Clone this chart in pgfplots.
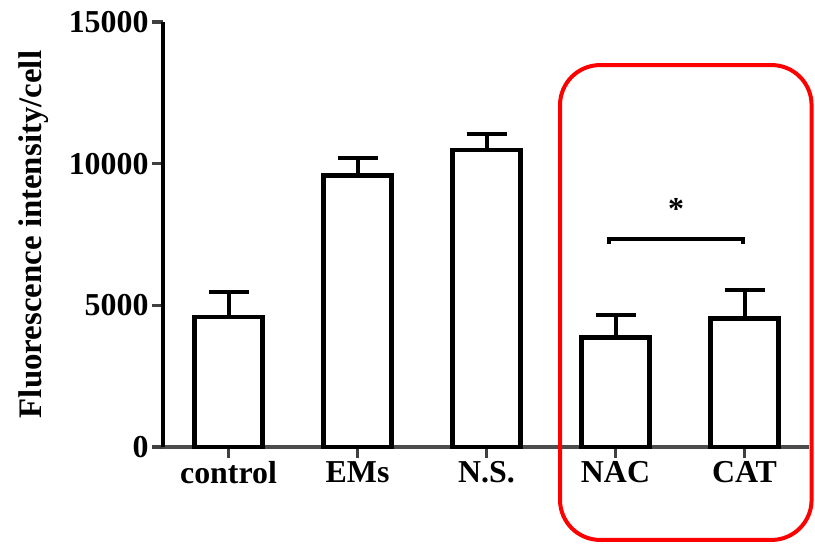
\documentclass[border=0pt]{standalone}
\usepackage{fontspec}
\setmainfont{Liberation Serif}
\usepackage{pgfplots}
\pgfplotsset{compat=1.18}

\pgfplotstableread{
x y e
0 4580 880
1 9580 620
2 10490 570
3 3870 780
4 4540 990
}\fluo

\newcommand{\bigbf}{\fontsize{32}{32}\selectfont\bfseries}

\begin{document}
\begin{tikzpicture}
\begin{axis}[
  scale only axis, width=646bp, height=425bp,
  xmin=-0.508, xmax=4.5, ymin=0, ymax=15000,
  axis x line*=bottom, axis y line*=left,
  x axis line style={line width=4.5bp, black!70, -},
  y axis line style={line width=4bp, black, -},
  xtick={0,...,4}, xticklabels={control,EMs,N.S.,NAC,CAT},
  ytick={0,5000,10000,15000},
  scaled y ticks=false,
  tick style={line width=3.5bp, black!75},
  major tick length=11bp,
  tick align=outside,
  ybar, bar width=68bp,
  clip=false,
  ylabel={Fluorescence intensity/cell},
  ylabel style={at={([xshift=-111bp]rel axis cs:0,0.5)}, anchor=south, font=\fontsize{33}{33}\selectfont\bfseries},
  ticklabel style={font=\bigbf},
  /pgf/number format/assume math mode=true,
  /pgf/number format/1000 sep={},
]
\addplot[draw=black, fill=white, line width=4.5bp,
  error bars/.cd, y dir=plus, y explicit,
  error bar style={line width=4bp, black},
  error mark options={rotate=90, mark size=20bp, line width=4bp, black}]
  table[x=x, y=y, y error=e] {\fluo};

\draw[line width=4bp] (axis cs:2.95,7150) -- (axis cs:2.95,7340) -- (axis cs:3.99,7340) -- (axis cs:3.99,7150);
\node[font=\bigbf] at (axis cs:3.47,8400) {*};
\draw[red, line width=4bp, rounded corners=40bp] (axis cs:2.57,-3280) rectangle (axis cs:4.52,13480);
\coordinate (bl) at (rel axis cs:0,0);
\coordinate (tr) at (rel axis cs:1,1);
\end{axis}
\pgfresetboundingbox
\path[use as bounding box] ([xshift=-163bp,yshift=-97bp]bl) rectangle ([xshift=6bp,yshift=22bp]tr);
\end{tikzpicture}
\end{document}
